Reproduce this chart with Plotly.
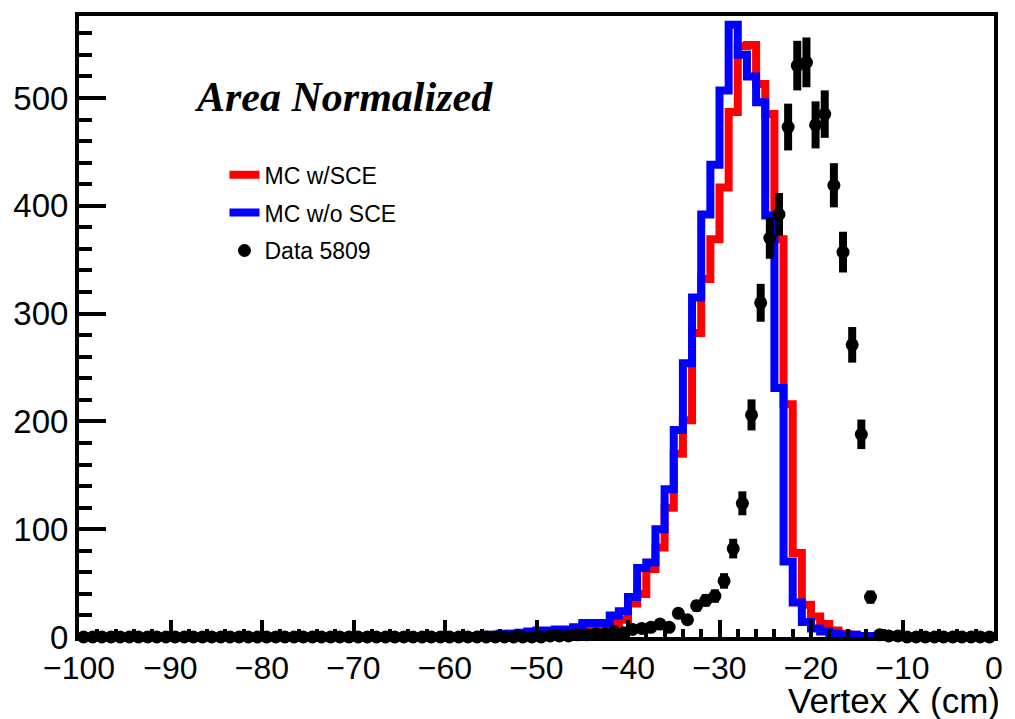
import plotly.graph_objects as go

# Bin left edges (1 cm bins from -100 to 0) and centres
bin_left = list(range(-100, 0))
bin_center = [e + 0.5 for e in bin_left]

# MC with space-charge effect (red), rows of 10 bins starting at -100
mc_sce = [
    0, 0, 0, 0, 0, 0, 0, 0, 0, 0,
    0, 0, 0, 0, 0, 0, 0, 0, 0, 0,
    0, 0, 0, 0, 0, 0, 0, 0, 0, 0,
    0, 0, 0, 0, 0, 0, 0, 0, 0, 0,
    0, 0, 0, 1, 1, 2, 2, 3, 3, 4,
    4, 5, 5, 6, 7, 9, 10, 10, 13, 16,
    31, 40, 63, 83, 120, 170, 201, 282, 332, 369,
    417, 487, 548, 549, 513, 485, 369, 216, 78, 30,
    19, 12, 6, 3, 2, 1, 1, 0, 0, 0,
    0, 0, 0, 0, 0, 0, 0, 0, 0, 0,
]

# MC without space-charge effect (blue)
mc_nosce = [
    0, 0, 0, 0, 0, 0, 0, 0, 0, 0,
    0, 0, 0, 0, 0, 0, 0, 0, 0, 0,
    0, 0, 0, 0, 0, 0, 0, 0, 0, 0,
    0, 0, 0, 0, 0, 0, 0, 0, 0, 0,
    0, 0, 1, 1, 2, 2, 3, 3, 4, 5,
    6, 6, 7, 7, 9, 13, 13, 13, 20, 24,
    37, 64, 69, 100, 137, 192, 254, 315, 392, 438,
    507, 568, 540, 520, 496, 391, 231, 70, 32, 14,
    8, 5, 3, 2, 2, 1, 1, 0, 0, 0,
    0, 0, 0, 0, 0, 0, 0, 0, 0, 0,
]

# Data run 5809
data_5809 = [
    0, 0, 0, 0, 0, 0, 0, 0, 0, 0,
    0, 0, 0, 0, 0, 0, 0, 0, 0, 0,
    0, 0, 0, 0, 0, 0, 0, 0, 0, 0,
    0, 0, 0, 0, 0, 0, 0, 0, 0, 0,
    0, 0, 0, 0, 0, 0, 0, 0, 0, 0,
    0, 1, 1, 1, 2, 2, 3, 3, 5, 4,
    7, 8, 9, 12, 9, 22, 16, 29, 34, 38,
    52, 82, 124, 206, 310, 370, 392, 473, 530, 533,
    475, 485, 419, 357, 271, 188, 37, 2, 1, 1,
    0, 0, 0, 0, 0, 0, 0, 0, 0, 0,
]

data_err = [
    0, 0, 0, 0, 0, 0, 0, 0, 0, 0,
    0, 0, 0, 0, 0, 0, 0, 0, 0, 0,
    0, 0, 0, 0, 0, 0, 0, 0, 0, 0,
    0, 0, 0, 0, 0, 0, 0, 0, 0, 0,
    0, 0, 0, 0, 0, 0, 0, 0, 0, 0,
    0, 1, 1, 1, 1.4, 1.4, 1.7, 1.7, 2.2, 2,
    2.6, 2.8, 3, 3.5, 3, 4.7, 4, 5.4, 5.8, 6.2,
    7.2, 9.1, 11.1, 14.4, 17.6, 19.2, 19.8, 21.7, 23, 23.1,
    21.8, 22, 20.5, 18.9, 16.5, 13.7, 6.1, 1.4, 1, 1,
    0, 0, 0, 0, 0, 0, 0, 0, 0, 0,
]

FONT = "Liberation Sans, Arial, Helvetica, sans-serif"

fig = go.Figure()
fig.add_trace(go.Scatter(
    x=bin_center, y=mc_sce, mode="lines", name="MC w/SCE",
    line=dict(color="#ff0000", width=8, shape="hvh"),
))
fig.add_trace(go.Scatter(
    x=bin_center, y=mc_nosce, mode="lines", name="MC w/o SCE",
    line=dict(color="#0000ff", width=8, shape="hvh"),
))
fig.add_trace(go.Scatter(
    x=bin_center, y=data_5809, mode="markers", name="Data 5809",
    marker=dict(color="black", size=13),
    error_y=dict(type="data", array=data_err, visible=True,
                 color="black", thickness=8, width=0),
    cliponaxis=False,
))

fig.update_layout(
    width=1015, height=719,
    margin=dict(l=79, r=15, t=13, b=82),
    paper_bgcolor="white", plot_bgcolor="white",
    font=dict(family=FONT, color="black"),
    showlegend=True,
    legend=dict(
        x=0.159, y=0.779, xanchor="left", yanchor="top",
        font=dict(family=FONT, size=23, color="black"),
        bgcolor="rgba(0,0,0,0)", borderwidth=0,
        tracegroupgap=5,
    ),
    xaxis=dict(
        range=[-100, 0], tickmode="linear", tick0=-100, dtick=10,
        ticks="inside", ticklen=17, tickwidth=4, tickcolor="black",
        showline=True, linewidth=4, linecolor="black", mirror=True,
        showgrid=False, zeroline=False,
        tickfont=dict(family=FONT, size=32, color="black"),
        minor=dict(ticks="inside", dtick=2, ticklen=8, tickwidth=4,
                   tickcolor="black", showgrid=False),
    ),
    yaxis=dict(
        range=[0, 576], tickmode="linear", tick0=0, dtick=100,
        ticks="inside", ticklen=27, tickwidth=4, tickcolor="black",
        showline=True, linewidth=4, linecolor="black", mirror=True,
        showgrid=False, zeroline=False,
        tickfont=dict(family=FONT, size=33, color="black"),
        minor=dict(ticks="inside", dtick=20, ticklen=13, tickwidth=4,
                   tickcolor="black", showgrid=False),
    ),
    annotations=[
        dict(text="<b><i>Area Normalized</i></b>", xref="paper", yref="paper",
             x=0.123, y=0.870, xanchor="left", yanchor="middle", showarrow=False,
             font=dict(family="Liberation Serif, Times New Roman, serif", size=42, color="black")),
        dict(text="Vertex X (cm)", xref="paper", yref="paper",
             x=1.0, y=0, xanchor="right", yanchor="middle", yshift=-63, xshift=8,
             showarrow=False,
             font=dict(family=FONT, size=35, color="black")),
    ],
)
for i, tr in enumerate(fig.data):
    tr.legendgroup = "g%d" % i

fig.write_html("out.html")
